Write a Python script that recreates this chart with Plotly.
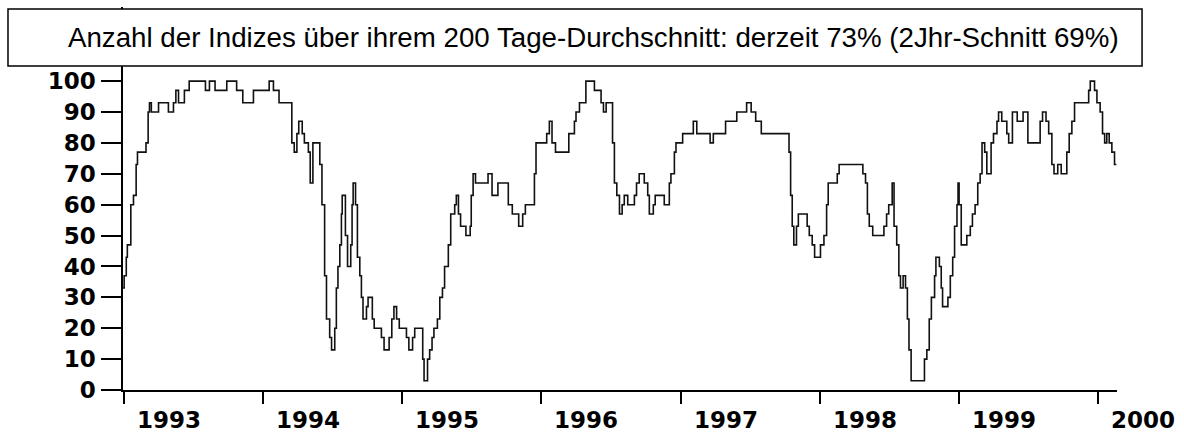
import pandas as pd
import plotly.graph_objects as go

title_text = "Anzahl der Indizes über ihrem 200 Tage-Durchschnitt: derzeit 73% (2Jhr-Schnitt 69%)"
start_date = "1993-01-01"

# change points: weeks since start_date, and share of indices above their 200-day average (%)
weeks = [
    -0.5, 0, 0.8, 1.2, 2.5, 3.5, 4.5, 5, 8.2, 9, 9.5, 10.2, 12.9, 16.6, 18.5, 19.4, 20.4, 22.6,
    24.4, 30.5, 32, 34.1, 38.5, 42.2, 44.5, 48.5, 54.4, 56, 58.1, 62.9, 63.8, 64.8, 65.5, 66.8,
    67.6, 69.1, 69.8, 70.8, 73.4, 74.2, 75.2, 75.9, 77.1, 77.8, 79, 79.6, 80.2, 80.9, 81.5, 81.8,
    83, 83.8, 85, 85.5, 85.9, 86.8, 87.5, 88.4, 89, 89.6, 90.9, 91.5, 93.1, 93.8, 96.5, 97.5,
    99.4, 100.4, 101.2, 102.2, 103.2, 105.9, 106.8, 108.2, 109, 112, 112.5, 113.8, 114.6, 115.5,
    116.2, 117.5, 118.4, 119.4, 120.2, 121.6, 122.5, 124, 124.6, 125.4, 126.2, 128.2, 129.8,
    130.2, 130.9, 131.8, 136.5, 138, 140.2, 144.1, 145.6, 148, 149.5, 150.5, 153.9, 154.5,
    158.5, 159.5, 160.5, 161.8, 166.8, 168.9, 169.5, 170.8, 173.2, 176.4, 178.9, 179.8, 180.8,
    183.2, 183.9, 184.8, 185.8, 186.8, 187.6, 188.9, 191.4, 192.2, 193.2, 195.1, 196.4, 197,
    198.5, 199.2, 202.6, 204.5, 205.1, 206.4, 207, 209.5, 213.5, 214.8, 219.8, 221, 225.6,
    229.8, 233.5, 235.2, 236.9, 239, 249.4, 250, 250.6, 251.2, 252.2, 252.9, 256.2, 257, 258.1,
    259, 261.2, 262.5, 263.5, 264.1, 267.5, 268.2, 277.1, 278.1, 278.8, 279.5, 280.8, 285, 286,
    286.8, 288.1, 288.8, 289.8, 290.6, 291.2, 292.2, 293.1, 293.8, 294.4, 295.2, 300.2, 301.1,
    302, 302.8, 304, 304.5, 305.8, 306.5, 307, 309, 309.9, 310.8, 311.5, 312.4, 312.8, 313.2,
    314, 316.1, 317.4, 318.2, 319.2, 320.2, 321.1, 321.8, 322.8, 323.6, 325.2, 326.1, 327.4,
    328, 329.2, 331.1, 331.8, 333.2, 335, 337.2, 339, 343.6, 344.5, 345.8, 346.8, 348, 348.8,
    350.2, 351.5, 353.6, 354.5, 355.5, 356.5, 361.8, 362.4, 364, 364.9, 366.1, 367, 367.8,
    368.6, 369.5, 370.5, 371.5, 372.2,
]
pct = [
    33, 37, 43, 47, 60, 63, 73, 77, 80, 90, 93, 90, 93, 90, 93, 97, 93, 97,
    100, 97, 100, 97, 100, 97, 93, 97, 100, 97, 93, 80, 77, 83, 87, 83,
    80, 77, 67, 80, 73, 60, 37, 23, 17, 13, 20, 33, 40, 47, 57, 63,
    50, 40, 47, 60, 67, 60, 43, 37, 30, 23, 27, 30, 23, 20, 17, 13,
    17, 23, 27, 23, 20, 17, 13, 17, 20, 10, 3, 10, 13, 17,
    20, 23, 30, 33, 40, 47, 57, 60, 63, 57, 53, 50, 53,
    63, 70, 67, 70, 63, 67, 60, 57, 53, 57, 60, 70, 80,
    83, 87, 80, 77, 83, 87, 90, 93, 100, 97, 93, 90, 93,
    80, 67, 63, 57, 60, 63, 60, 63, 67, 70, 67, 63, 57,
    60, 63, 60, 67, 70, 77, 80, 83, 87, 83, 80, 83, 87,
    90, 93, 90, 87, 83, 77, 63, 53, 47, 53, 57, 53, 50, 47,
    43, 47, 50, 60, 67, 70, 73, 70, 67, 57, 53, 50, 53, 57,
    60, 67, 53, 47, 37, 33, 37, 33, 23, 13, 3, 10, 13,
    23, 30, 37, 43, 40, 33, 27, 30, 37, 43, 53, 60, 67, 60,
    47, 50, 53, 57, 60, 67, 70, 80, 77, 70, 80, 83, 87,
    90, 87, 83, 80, 90, 87, 90, 80, 87, 90, 87, 83, 73, 70,
    73, 70, 77, 83, 87, 93, 97, 100, 97, 93, 90, 83, 80,
    83, 80, 77, 73, 73,
]

years = [1993, 1994, 1995, 1996, 1997, 1998, 1999, 2000]
y_ticks = [0, 10, 20, 30, 40, 50, 60, 70, 80, 90, 100]

dates = pd.Timestamp(start_date) + pd.to_timedelta([w * 7 for w in weeks], unit="D")
year_dates = [f"{y}-01-01" for y in years]

fig = go.Figure()
fig.add_trace(go.Scatter(
    x=dates, y=pct, mode="lines",
    line=dict(shape="hv", color="#111111", width=1.6),
    hoverinfo="x+y", showlegend=False,
))

tick_font = dict(family="DejaVu Sans", size=23, color="black", weight="bold")

# year labels sit to the right of their tick marks, below the axis
year_labels = [dict(
    text=str(y), x=d, xref="x", y=-0.079, yref="paper",
    xanchor="left", yanchor="middle", xshift=11, showarrow=False,
    font=tick_font,
) for y, d in zip(years, year_dates)]

fig.update_layout(
    template="none",
    width=1184, height=432,
    margin=dict(l=123, r=67, t=7, b=42, pad=0),
    paper_bgcolor="white", plot_bgcolor="white",
    xaxis=dict(
        type="date",
        range=["1992-12-29", "2000-02-21"],
        automargin=False,
        tickmode="array",
        tickvals=year_dates,
        showticklabels=False,
        ticks="outside", ticklen=12, tickwidth=1.5, tickcolor="black",
        showline=True, linecolor="black", linewidth=1.5,
        showgrid=False, zeroline=False,
    ),
    yaxis=dict(
        range=[0, 124],
        automargin=False,
        tickmode="array",
        tickvals=y_ticks,
        ticktext=[str(v) for v in y_ticks],
        ticks="outside", ticklen=20, tickwidth=1.5, tickcolor="black",
        showline=True, linecolor="black", linewidth=1.5,
        showgrid=False, zeroline=False,
        tickfont=tick_font,
        ticklabelstandoff=1,
    ),
    shapes=[dict(
        type="rect", xref="paper", yref="paper",
        x0=-0.1157, x1=1.0252, y0=0.846, y1=0.9948,
        fillcolor="white", line=dict(color="black", width=1.5), layer="above",
    )],
    annotations=[dict(
        text=title_text, xref="paper", yref="paper",
        x=0.4738, y=0.9204, xanchor="center", yanchor="middle",
        showarrow=False,
        font=dict(family="Liberation Sans, Arial, sans-serif", size=27.7, color="black"),
    )] + year_labels,
)

fig.write_html(
    "out.html",
    config={"displayModeBar": False},
    post_script="document.body.style.margin='0';document.body.style.overflow='hidden';",
)
